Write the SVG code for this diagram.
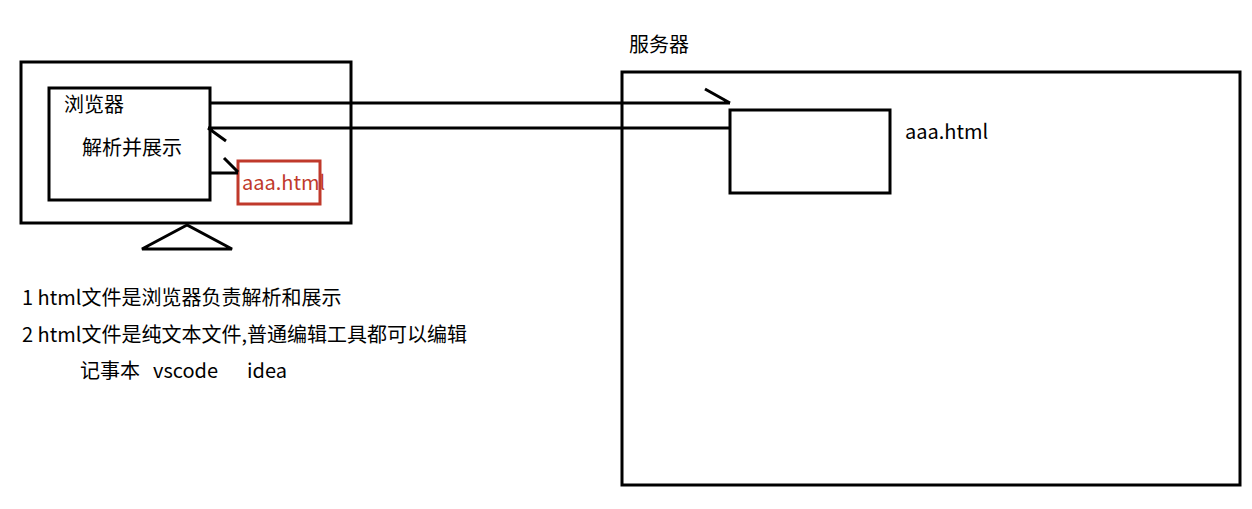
<svg xmlns="http://www.w3.org/2000/svg" width="1252" height="509" viewBox="0 0 1252 509">
<style>
.box{fill:none;stroke:#000;stroke-width:3}
.ln{fill:none;stroke:#000;stroke-width:3;stroke-linecap:butt}
.t{font-family:"Noto Sans CJK SC","Microsoft YaHei",sans-serif;font-size:20px;fill:#000}
.red{fill:#c0392b}
</style>
<rect width="1252" height="509" fill="#fff"/>
<g id="monitor">
<rect class="box" x="21" y="62" width="330" height="161"/>
<polygon class="box" points="187,225 142,249 232,249"/>
</g>
<g id="browser">
<rect class="box" x="49" y="88" width="161" height="112"/>
<text class="t" x="64" y="112">浏览器</text>
<text class="t" x="82" y="155">解析并展示</text>
</g>
<g id="localfile">
<rect fill="none" stroke="#c0392b" stroke-width="3" x="238" y="161" width="82" height="43"/>
<text class="t red" x="242" y="190" font-size="21">aaa.html</text>
</g>
<g id="server">
<rect class="box" x="622" y="72" width="618" height="413"/>
<text class="t" x="629" y="52">服务器</text>
</g>
<g id="serverfile">
<rect class="box" x="730" y="110" width="160" height="83"/>
<text class="t" x="905" y="139">aaa.html</text>
</g>
<g id="connectors">
<path class="ln" d="M211,103 H730 M705,89 L730,103"/>
<path class="ln" d="M730,128 H208 M208,128 L226,141"/>
<path class="ln" d="M211,173 H238 M224,158 L238,172"/>
</g>
<g id="notes">
<text class="t" x="22" y="305">1 html文件是浏览器负责解析和展示</text>
<text class="t" x="22" y="342">2 html文件是纯文本文件,普通编辑工具都可以编辑</text>
<text class="t" y="378"><tspan x="80">记事本</tspan><tspan x="153">vscode</tspan><tspan x="247">idea</tspan></text>
</g>
</svg>
